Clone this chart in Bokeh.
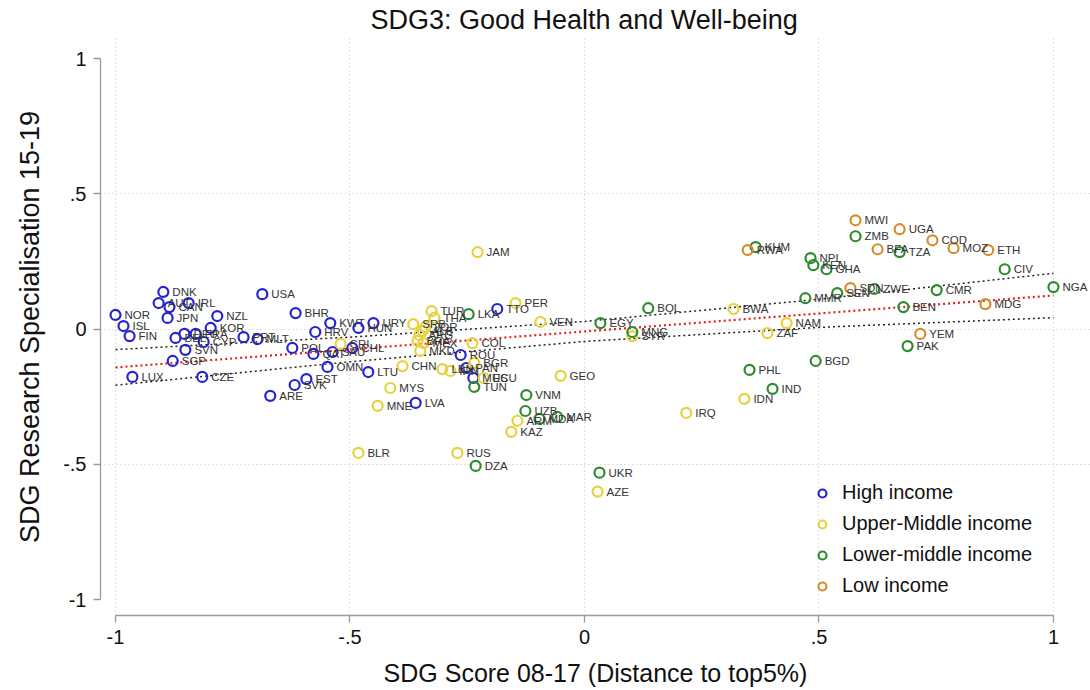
from bokeh.plotting import figure
from bokeh.models import ColumnDataSource, Range1d, FixedTicker, Legend, LegendItem, LabelSet
from bokeh.core.properties import value
from bokeh.embed import file_html
from bokeh.resources import INLINE

# ---------------- data ----------------
high_codes = ["NOR", "ISL", "FIN", "DNK", "AUT", "CAN", "IRL", "JPN", "NZL", "KOR",
              "BEL", "DEU", "FRA", "CYP", "SVN", "SGP", "LUX", "CZE", "PRT", "MLT",
              "USA", "POL", "BHR", "HRV", "KWT", "HUN", "URY", "QAT", "SAU", "CHL",
              "OMN", "EST", "SVK", "ARE", "LTU", "LVA", "ROU", "PAN", "MUS", "TTO"]
high_x = [-1.000, -0.983, -0.970, -0.898, -0.908, -0.885, -0.844, -0.889, -0.783, -0.797,
          -0.872, -0.853, -0.829, -0.812, -0.851, -0.878, -0.964, -0.815, -0.727, -0.697,
          -0.687, -0.623, -0.616, -0.574, -0.542, -0.482, -0.450, -0.578, -0.537, -0.495,
          -0.548, -0.593, -0.618, -0.670, -0.461, -0.360, -0.264, -0.252, -0.237, -0.186]
high_y = [0.052, 0.011, -0.026, 0.137, 0.096, 0.081, 0.096, 0.041, 0.048, 0.004,
          -0.033, -0.018, -0.018, -0.048, -0.077, -0.118, -0.177, -0.177, -0.030, -0.037,
          0.129, -0.070, 0.059, -0.011, 0.022, 0.004, 0.022, -0.092, -0.085, -0.070,
          -0.140, -0.185, -0.207, -0.247, -0.159, -0.273, -0.096, -0.144, -0.181, 0.074]

upper_codes = ["CRI", "SRB", "TUR", "THA", "JOR", "ALB", "ARG", "BRA", "MEX", "MKD",
               "COL", "CHN", "MYS", "MNE", "BLR", "RUS", "LBN", "IRN", "BGR", "ECU",
               "JAM", "PER", "VEN", "GEO", "ARM", "KAZ", "AZE", "SYR", "IRQ", "BWA",
               "ZAF", "NAM", "IDN"]
upper_x = [-0.520, -0.365, -0.326, -0.320, -0.339, -0.345, -0.352, -0.356, -0.343, -0.350,
           -0.239, -0.388, -0.414, -0.441, -0.482, -0.271, -0.303, -0.286, -0.235, -0.215,
           -0.228, -0.147, -0.094, -0.051, -0.143, -0.156, 0.028, 0.102, 0.217, 0.318,
           0.390, 0.431, 0.341]
upper_y = [-0.055, 0.018, 0.066, 0.041, 0.007, -0.007, -0.022, -0.044, -0.052, -0.081,
           -0.052, -0.137, -0.218, -0.284, -0.458, -0.458, -0.148, -0.155, -0.125, -0.181,
           0.284, 0.096, 0.026, -0.173, -0.339, -0.380, -0.601, -0.026, -0.310, 0.074,
           -0.015, 0.022, -0.258]

lower_codes = ["LKA", "TUN", "DZA", "VNM", "UZB", "MDA", "MAR", "EGY", "MNG", "BOL",
               "UKR", "PHL", "IND", "BGD", "KHM", "NPL", "KEN", "GHA", "ZMB", "TZA",
               "CIV", "NGA", "ZWE", "SEN", "MMR", "CMR", "BEN", "PAK"]
lower_x = [-0.247, -0.235, -0.232, -0.124, -0.126, -0.096, -0.058, 0.034, 0.102, 0.136,
           0.032, 0.352, 0.401, 0.493, 0.365, 0.482, 0.488, 0.516, 0.578, 0.672,
           0.896, 1.000, 0.618, 0.539, 0.471, 0.751, 0.680, 0.689]
lower_y = [0.055, -0.214, -0.506, -0.244, -0.303, -0.332, -0.325, 0.022, -0.011, 0.077,
           -0.531, -0.151, -0.221, -0.118, 0.303, 0.262, 0.236, 0.221, 0.343, 0.284,
           0.221, 0.155, 0.148, 0.133, 0.114, 0.144, 0.081, -0.063]

low_codes = ["RWA", "MWI", "UGA", "COD", "BFA", "MOZ", "ETH", "SDN", "MDG", "YEM"]
low_x = [0.348, 0.578, 0.672, 0.742, 0.625, 0.787, 0.861, 0.567, 0.855, 0.716]
low_y = [0.292, 0.402, 0.369, 0.328, 0.295, 0.299, 0.292, 0.151, 0.092, -0.018]

# fitted line and confidence bounds
fit_x = [-1.0, 1.0]
fit_y = [-0.142, 0.124]
ci_x = [-1.0, -0.5, 0.0, 0.5, 1.0]
ci_upper = [-0.076, -0.030, 0.028, 0.110, 0.206]
ci_lower = [-0.208, -0.121, -0.046, 0.006, 0.042]

tick_vals = [-1, -0.5, 0, 0.5, 1]
tick_text = ["-1", "-.5", "0", ".5", "1"]

groups = [
    ("High income", high_codes, high_x, high_y, "#2424d0"),
    ("Upper-Middle income", upper_codes, upper_x, upper_y, "#e6d23c"),
    ("Lower-middle income", lower_codes, lower_x, lower_y, "#2e8b2e"),
    ("Low income", low_codes, low_x, low_y, "#d68d2e"),
]

FONT = "Liberation Sans"

p = figure(width=1090, height=690, output_backend="svg", toolbar_location=None,
           x_range=Range1d(-1.032, 1.079), y_range=Range1d(-1.059, 1.074),
           min_border_left=100, min_border_right=0, min_border_top=38, min_border_bottom=75,
           title="SDG3: Good Health and Well-being")
p.outline_line_color = None
p.background_fill_color = "white"
p.border_fill_color = "white"

p.title.align = "left"
p.title.offset = 270
p.title.vertical_align = "top"
p.title.text_font = FONT
p.title.text_font_size = "27px"
p.title.text_font_style = "normal"
p.title.text_color = "#111111"
p.title.standoff = 4

# grid
p.xgrid.ticker = FixedTicker(ticks=tick_vals)
p.ygrid.ticker = FixedTicker(ticks=[-0.5, 0, 0.5])
for g in (p.xgrid, p.ygrid):
    g.grid_line_color = "#c4c4c4"
    g.grid_line_dash = "1 3"
    g.grid_line_width = 1.2

# axes
for ax in (p.xaxis, p.yaxis):
    ax.ticker = FixedTicker(ticks=tick_vals)
    ax.major_label_overrides = dict(zip(tick_vals, tick_text))
    ax.bounds = (-1, 1)
    ax.minor_tick_line_color = None
    ax.axis_line_color = "#9a9a9a"
    ax.axis_line_width = 1.3
    ax.major_tick_line_color = "#9a9a9a"
    ax.major_tick_line_width = 1.3
    ax.major_tick_in = 0
    ax.major_tick_out = 7
    ax.major_label_standoff = 7
    ax.major_label_text_font = FONT
    ax.major_label_text_font_size = "20px"
    ax.major_label_text_color = "#111111"
    ax.axis_label_text_font = FONT
    ax.axis_label_text_font_style = "normal"
    ax.axis_label_text_color = "#111111"
p.xaxis.axis_label = "SDG Score 08-17 (Distance to top5%)"
p.yaxis.axis_label = "SDG Research Specialisation 15-19"
p.xaxis.axis_label_text_font_size = "25px"
p.yaxis.axis_label_text_font_size = "27px"
p.xaxis.axis_label_standoff = 12
p.yaxis.axis_label_standoff = 15

# fit line and CI
p.line(ci_x, ci_upper, line_color="#222222", line_width=1.5, line_dash="2 3")
p.line(ci_x, ci_lower, line_color="#222222", line_width=1.5, line_dash="2 3")
p.line(fit_x, fit_y, line_color="#e3241c", line_width=2.2, line_dash="2 3")

# points and labels
legend_items = []
for name, codes, xs, ys, col in groups:
    src = ColumnDataSource(dict(x=xs, y=ys, code=codes))
    r = p.scatter("x", "y", source=src, size=10, marker="circle", fill_color=None,
                  line_color=col, line_width=2.2)
    labels = LabelSet(x="x", y="y", text="code", source=src, x_offset=9,
                      text_baseline="middle", text_align="left",
                      text_font_size="11.5px", text_color="#333333",
                      text_font=value(FONT))
    p.add_layout(labels)
    legend_items.append(LegendItem(label=name, renderers=[r]))

legend = Legend(items=legend_items, location=(712, 18), orientation="vertical",
                glyph_width=20, glyph_height=20, label_height=20, spacing=8,
                label_standoff=10, padding=0, margin=0,
                label_text_font=FONT, label_text_font_size="20px",
                label_text_color="#111111",
                background_fill_alpha=0, border_line_color=None)
p.add_layout(legend, "center")

open("out.html", "w").write(file_html(p, INLINE))
